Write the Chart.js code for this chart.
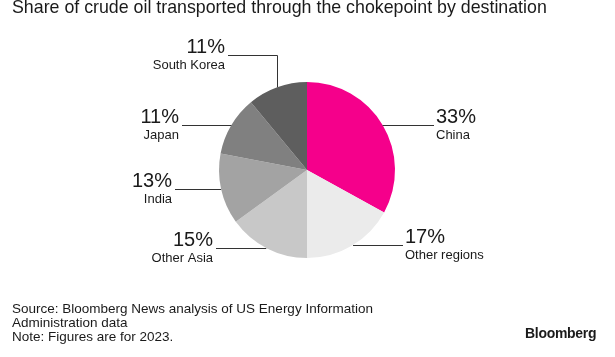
<!DOCTYPE html>
<html>
<head>
<meta charset="utf-8">
<script src="https://cdn.jsdelivr.net/npm/chart.js@4"></script>
<style>
  html, body { margin: 0; padding: 0; background: #fff; }
  body { width: 615px; height: 357px; position: relative; overflow: hidden; font-family: "Liberation Sans", Arial, sans-serif; color: #1a1a1a; }
  #wrap { position: absolute; left: 0; top: 0; width: 615px; height: 357px; }
  .title { position: absolute; left: 12px; top: -3px; font-size: 17.8px; white-space: nowrap; }
  .foot { position: absolute; left: 12px; top: 302px; font-size: 13.5px; line-height: 14px; white-space: nowrap; }
  .brand { position: absolute; left: 525px; top: 325px; font-size: 14px; font-weight: bold; letter-spacing: -0.3px; }
</style>
</head>
<body>
<div id="wrap"><canvas id="c" width="615" height="357"></canvas></div>
<div class="title">Share of crude oil transported through the chokepoint by destination</div>
<div class="foot">Source: Bloomberg News analysis of US Energy Information<br>Administration data<br>Note: Figures are for 2023.</div>
<div class="brand">Bloomberg</div>
<script>
const categories = ["China", "Other regions", "Other Asia", "India", "Japan", "South Korea"];
const shares = [33, 17, 15, 13, 11, 11];
const percentLabels = ["33%", "17%", "15%", "13%", "11%", "11%"];
const sliceColors = ["#f5008b", "#ebebeb", "#c8c8c8", "#a3a3a3", "#808080", "#5e5e5e"];

// label layout: leader line y offset from centre (dy), end x offset (ex); elbow uses vertical x offset
const labelLayout = [
  { side: "right", dy: -45, ex: 127 },
  { side: "right", dy: 75, ex: 96 },
  { side: "left", dy: 78, ex: -91 },
  { side: "left", dy: 19, ex: -132 },
  { side: "left", dy: -45, ex: -125 },
  { side: "left", elbow: true, vx: -30, dy: -115, ex: -79 }
];

const leaderPlugin = {
  id: "leaders",
  afterDatasetsDraw(chart) {
    const ctx = chart.ctx;
    const meta = chart.getDatasetMeta(0);
    meta.data.forEach((arc, i) => {
      const cx = arc.x, cy = arc.y, R = arc.outerRadius;
      const L = labelLayout[i];
      const ly = cy + L.dy;
      const ex = cx + L.ex;
      ctx.save();
      ctx.strokeStyle = "#333";
      ctx.lineWidth = 1;
      ctx.beginPath();
      if (L.elbow) {
        const vx = cx + L.vx;
        const sy = cy - Math.sqrt(R * R - L.vx * L.vx);
        ctx.moveTo(vx + 0.5, sy);
        ctx.lineTo(vx + 0.5, Math.round(ly) + 0.5);
        ctx.lineTo(ex, Math.round(ly) + 0.5);
      } else {
        const hx = Math.sqrt(Math.max(0, R * R - L.dy * L.dy));
        const sx = L.side === "right" ? cx + hx : cx - hx;
        ctx.moveTo(sx, Math.round(ly) + 0.5);
        ctx.lineTo(ex, Math.round(ly) + 0.5);
      }
      ctx.stroke();
      ctx.fillStyle = "#1a1a1a";
      ctx.textBaseline = "alphabetic";
      const tx = L.side === "right" ? ex + 2 : ex - 3;
      ctx.textAlign = L.side === "right" ? "left" : "right";
      ctx.font = '20px "Liberation Sans", Arial, sans-serif';
      ctx.fillText(percentLabels[i], tx, ly - 2);
      ctx.font = '13px "Liberation Sans", Arial, sans-serif';
      ctx.fillText(categories[i], tx, ly + 14);
      ctx.restore();
    });
  }
};

new Chart(document.getElementById("c"), {
  type: "pie",
  data: {
    labels: categories,
    datasets: [{ data: shares, backgroundColor: sliceColors, borderWidth: 0, hoverOffset: 0 }]
  },
  options: {
    responsive: false,
    animation: false,
    events: [],
    layout: { padding: { left: 219, right: 220, top: 82, bottom: 99 } },
    plugins: { legend: { display: false }, tooltip: { enabled: false }, title: { display: false } }
  },
  plugins: [leaderPlugin]
});
</script>
</body>
</html>
